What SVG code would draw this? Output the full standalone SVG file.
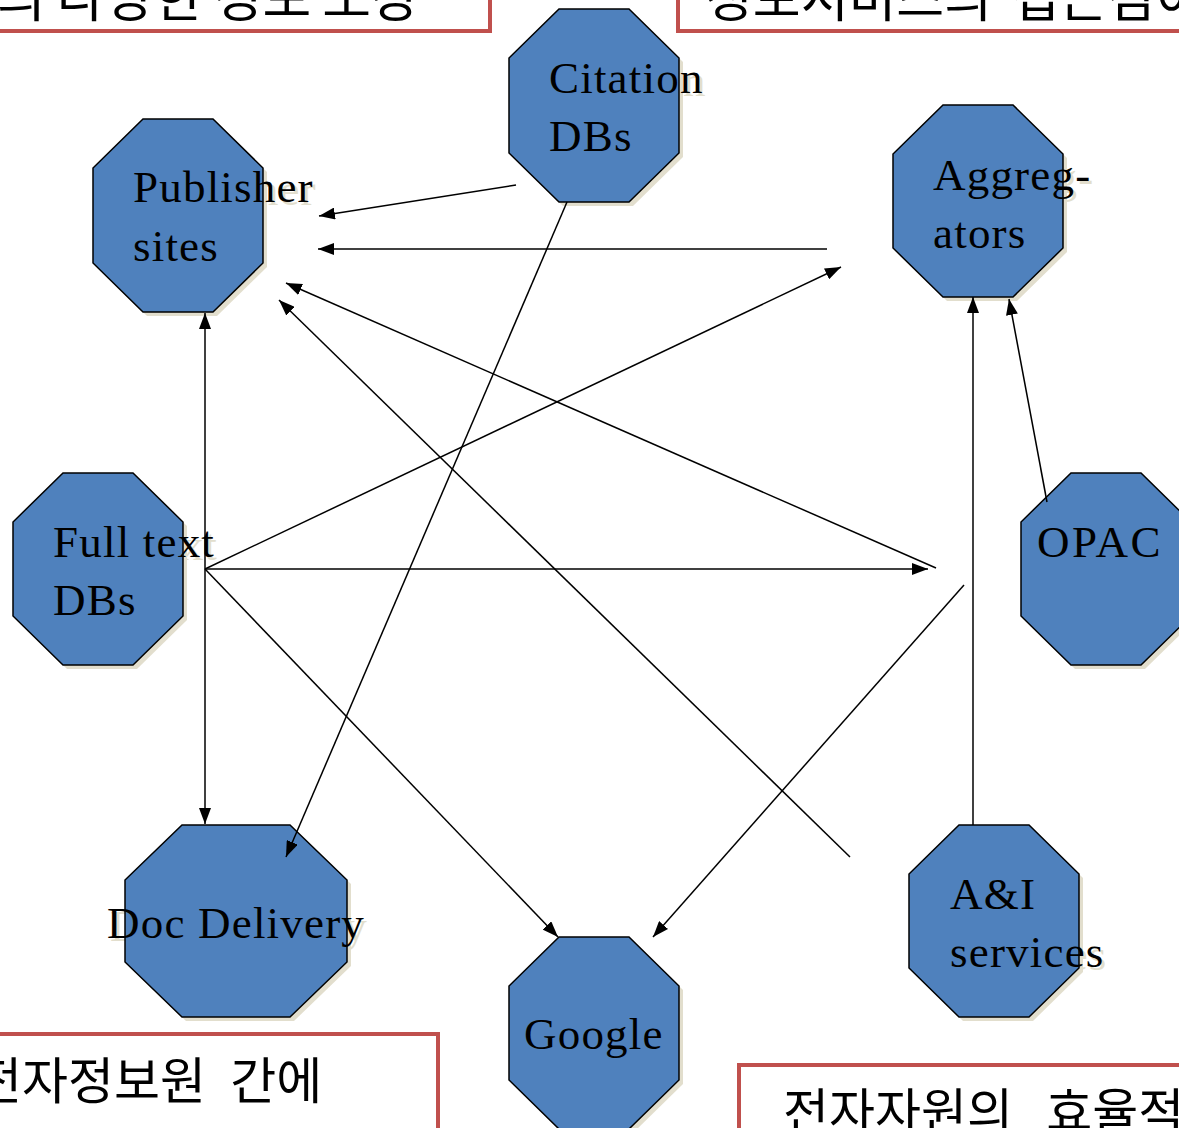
<svg xmlns="http://www.w3.org/2000/svg" width="1179" height="1128" viewBox="0 0 1179 1128">
<defs>
<style>
.box{fill:#fff;stroke:#C0504D;stroke-width:4}
.kr{font-family:"Noto Sans CJK KR","Noto Sans",sans-serif;fill:#000}
.oct{fill:#4F81BD;stroke:#000;stroke-width:1.5}
.sh{fill:#E2DECD}
.lbl{font-family:"Liberation Serif","Times New Roman",serif;font-size:45px;letter-spacing:1.2px;fill:#000}
.lsh{font-family:"Liberation Serif","Times New Roman",serif;font-size:45px;letter-spacing:1.2px;fill:#E2DECD}
.cn{stroke:#000;stroke-width:1.5;fill:none}
</style>
<marker id="ah" viewBox="0 0 16 12" refX="16" refY="6" markerWidth="16" markerHeight="12" markerUnits="userSpaceOnUse" orient="auto-start-reverse">
<path d="M0,0 L16,6 L0,12 z" fill="#000"/>
</marker>
</defs>
<rect width="1179" height="1128" fill="#fff"/>

<g id="box-topleft">
<rect class="box" x="-10" y="-10" width="500" height="41"/>
<text class="kr" x="-3" y="17" font-size="53" word-spacing="-1">의 다양한 정보 소장</text>
</g>
<g id="box-topright">
<rect class="box" x="678" y="-10" width="520" height="41"/>
<text class="kr" x="705" y="17" font-size="52" word-spacing="8">정보서비스의 접근점이</text>
</g>
<g id="box-bottomleft">
<rect class="box" x="-10" y="1034" width="448" height="110"/>
<text class="kr" x="-24" y="1099" font-size="50" word-spacing="13">전자정보원 간에</text>
</g>
<g id="box-bottomright">
<rect class="box" x="739" y="1065" width="460" height="80"/>
<text class="kr" x="783" y="1130" font-size="50" word-spacing="22">전자자원의 효율적</text>
</g>

<g id="node-citation">
<polygon class="sh" transform="translate(4,4)" points="559,9 629,9 679,58 679,153 629,202 559,202 509,153 509,58"/>
<text class="lsh" x="552" y="96">Citation</text>
<polygon class="oct" points="559,9 629,9 679,58 679,153 629,202 559,202 509,153 509,58"/>
<text class="lbl" x="549" y="93">Citation</text>
<text class="lbl" x="549" y="151">DBs</text>
</g>

<g id="node-publisher">
<polygon class="sh" transform="translate(4,4)" points="143,119 213,119 263,168 263,263 213,312 143,312 93,263 93,168"/>
<text class="lsh" x="136" y="205">Publisher</text>
<polygon class="oct" points="143,119 213,119 263,168 263,263 213,312 143,312 93,263 93,168"/>
<text class="lbl" x="133" y="202">Publisher</text>
<text class="lbl" x="133" y="261">sites</text>
</g>

<g id="node-aggregators">
<polygon class="sh" transform="translate(4,4)" points="943,105 1013,105 1063,154 1063,248 1013,297 943,297 893,248 893,154"/>
<text class="lsh" x="936" y="193">Aggreg-</text>
<polygon class="oct" points="943,105 1013,105 1063,154 1063,248 1013,297 943,297 893,248 893,154"/>
<text class="lbl" x="933" y="190">Aggreg-</text>
<text class="lbl" x="933" y="248">ators</text>
</g>

<g id="node-fulltext">
<polygon class="sh" transform="translate(4,4)" points="63,473 133,473 183,522 183,616 133,665 63,665 13,616 13,522"/>
<text class="lsh" x="56" y="560">Full text</text>
<polygon class="oct" points="63,473 133,473 183,522 183,616 133,665 63,665 13,616 13,522"/>
<text class="lbl" x="53" y="557">Full text</text>
<text class="lbl" x="53" y="615">DBs</text>
</g>

<g id="node-opac">
<polygon class="sh" transform="translate(4,4)" points="1071,473 1141,473 1191,522 1191,616 1141,665 1071,665 1021,616 1021,522"/>
<polygon class="oct" points="1071,473 1141,473 1191,522 1191,616 1141,665 1071,665 1021,616 1021,522"/>
<text class="lbl" x="1037" y="557" style="letter-spacing:2.5px">OPAC</text>
</g>

<g id="node-ai">
<polygon class="sh" transform="translate(4,4)" points="959,825 1029,825 1079,874 1079,968 1029,1017 959,1017 909,968 909,874"/>
<text class="lsh" x="953" y="970">services</text>
<polygon class="oct" points="959,825 1029,825 1079,874 1079,968 1029,1017 959,1017 909,968 909,874"/>
<text class="lbl" x="950" y="909">A&amp;I</text>
<text class="lbl" x="950" y="967">services</text>
</g>

<g id="node-google">
<polygon class="sh" transform="translate(4,4)" points="559,937 629,937 679,986 679,1080 629,1129 559,1129 509,1080 509,986"/>
<polygon class="oct" points="559,937 629,937 679,986 679,1080 629,1129 559,1129 509,1080 509,986"/>
<text class="lbl" x="524" y="1049">Google</text>
</g>

<g id="node-docdelivery">
<polygon class="sh" transform="translate(4,4)" points="182,825 290,825 347,880 347,962 290,1017 182,1017 125,962 125,880"/>
<text class="lsh" x="110" y="941">Doc Delivery</text>
<polygon class="oct" points="182,825 290,825 347,880 347,962 290,1017 182,1017 125,962 125,880"/>
<text class="lbl" x="107" y="938">Doc Delivery</text>
</g>

<g id="connectors">
<line class="cn" x1="516" y1="185" x2="319" y2="216" marker-end="url(#ah)"/>
<line class="cn" x1="827" y1="249" x2="318" y2="249" marker-end="url(#ah)"/>
<line class="cn" x1="936" y1="568" x2="286" y2="283" marker-end="url(#ah)"/>
<line class="cn" x1="850" y1="857" x2="279" y2="300" marker-end="url(#ah)"/>
<line class="cn" x1="205" y1="313" x2="205" y2="824" marker-start="url(#ah)" marker-end="url(#ah)"/>
<line class="cn" x1="205" y1="569" x2="841" y2="267" marker-end="url(#ah)"/>
<line class="cn" x1="205" y1="569" x2="928" y2="569" marker-end="url(#ah)"/>
<line class="cn" x1="205" y1="569" x2="558" y2="937" marker-end="url(#ah)"/>
<line class="cn" x1="567" y1="202" x2="286" y2="857" marker-end="url(#ah)"/>
<line class="cn" x1="964" y1="585" x2="653" y2="937" marker-end="url(#ah)"/>
<line class="cn" x1="973" y1="825" x2="973" y2="297" marker-end="url(#ah)"/>
<line class="cn" x1="1047" y1="502" x2="1009" y2="299" marker-end="url(#ah)"/>
</g>
</svg>
